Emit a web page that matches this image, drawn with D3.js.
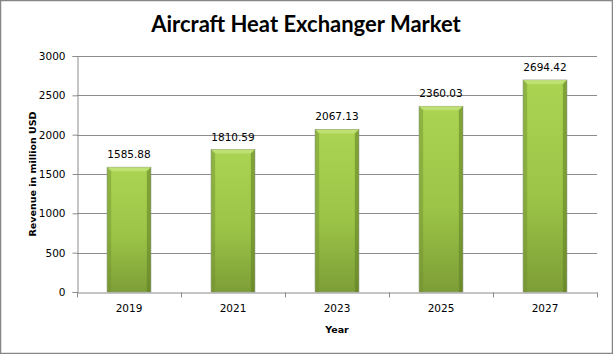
<!DOCTYPE html>
<html>
<head>
<meta charset="utf-8">
<script src="https://cdn.jsdelivr.net/npm/d3@7"></script>
<style>
	body{margin:0;background:#fff;}
	text{font-family:"DejaVu Sans",Verdana,sans-serif;fill:#000;}
	.title{font-family:Lato,"Open Sans",sans-serif;font-weight:bold;font-size:22px;}
	.axis-title{font-weight:bold;font-size:9.5px;}
	.tick-label{font-size:10.5px;}
</style>
</head>
<body>
<script>
var years = ["2019","2021","2023","2025","2027"];
var revenue = [1585.88, 1810.59, 2067.13, 2360.03, 2694.42];
var yTicks = [0, 500, 1000, 1500, 2000, 2500, 3000];

var width = 613, height = 354;
var margin = {left:77, right:16, top:56, bottom:62};
var bevel = 4;

var svg = d3.select('body').append('svg')
	.attr('width', width).attr('height', height);

var defs = svg.append('defs');
var grad = defs.append('linearGradient').attr('id','barGrad')
	.attr('x1',0).attr('y1',0).attr('x2',0).attr('y2',1);
grad.append('stop').attr('offset','0%').attr('stop-color','#abd453');
grad.append('stop').attr('offset','55%').attr('stop-color','#9cc447');
grad.append('stop').attr('offset','100%').attr('stop-color','#7d9e37');

// borda externa
svg.append('rect').attr('x',0.5).attr('y',0.5)
	.attr('width',width-1).attr('height',height-1)
	.attr('fill','none').attr('stroke','#868686').attr('stroke-width',1.5);

svg.append('text').attr('class','title')
	.attr('x', 306).attr('y', 32)
	.attr('text-anchor','middle')
	.text('Aircraft Heat Exchanger Market');

var x = d3.scaleBand().domain(years)
	.range([margin.left, width-margin.right])
	.paddingInner(0.58).paddingOuter(0.29);
var y = d3.scaleLinear().domain([0,3000])
	.range([height-margin.bottom, margin.top]);

// grade
svg.append('g').selectAll('line').data(yTicks.slice(1)).enter()
	.append('line')
	.attr('x1', margin.left).attr('x2', width-margin.right)
	.attr('y1', function(d){return Math.round(y(d))+0.5;})
	.attr('y2', function(d){return Math.round(y(d))+0.5;})
	.attr('stroke','#8c8c8c');

// eixo y
var yAxis = svg.append('g')
	.attr('transform','translate('+(margin.left+0.5)+',0)')
	.call(d3.axisLeft(y).tickValues(yTicks).tickFormat(d3.format('d')).tickSize(5).tickPadding(7));
yAxis.select('.domain').attr('stroke','#8c8c8c');
yAxis.selectAll('.tick line').attr('stroke','#8c8c8c');
yAxis.selectAll('.tick text').attr('class','tick-label').attr('font-family',null).attr('font-size',null);

// eixo x
var xAxis = svg.append('g')
	.attr('transform','translate(0,'+(Math.round(y(0))+0.5)+')')
	.call(d3.axisBottom(x).tickSize(0).tickPadding(12));
xAxis.select('.domain').attr('stroke','#8c8c8c');
xAxis.selectAll('.tick text').attr('class','tick-label').attr('font-family',null).attr('font-size',null);
// marcas entre categorias
var step = x.step();
xAxis.selectAll('.sep').data(d3.range(years.length+1)).enter()
	.append('line')
	.attr('x1', function(i){return Math.round(margin.left + i*step)+0.5;})
	.attr('x2', function(i){return Math.round(margin.left + i*step)+0.5;})
	.attr('y1',0).attr('y2',5)
	.attr('stroke','#8c8c8c');

// barras
var bars = svg.append('g').selectAll('.bar')
	.data(years.map(function(d,i){return {year:d, value:revenue[i]};}))
	.enter().append('g').attr('class','bar');

bars.append('rect')
	.attr('x', function(d){return x(d.year);})
	.attr('y', function(d){return y(d.value);})
	.attr('width', x.bandwidth())
	.attr('height', function(d){return y(0)-y(d.value);})
	.attr('fill','url(#barGrad)')
	.attr('stroke','#8e9a80').attr('stroke-width',0.8);

function pts(a){ return a.map(function(p){return p.join(',');}).join(' '); }

bars.append('polygon')
	.attr('points', function(d){
		var x0 = x(d.year), x1 = x0+x.bandwidth(), y0 = y(d.value);
		return pts([[x0,y0],[x1,y0],[x1-bevel,y0+bevel],[x0+bevel,y0+bevel]]);
	})
	.attr('fill','#c4e37a').attr('opacity',0.8);
bars.append('polygon')
	.attr('points', function(d){
		var x0 = x(d.year), y0 = y(d.value), y1 = y(0);
		return pts([[x0,y0],[x0+bevel,y0+bevel],[x0+bevel,y1],[x0,y1]]);
	})
	.attr('fill','#6f8f2c').attr('opacity',0.45);
bars.append('polygon')
	.attr('points', function(d){
		var x1 = x(d.year)+x.bandwidth(), y0 = y(d.value), y1 = y(0);
		return pts([[x1,y0],[x1-bevel,y0+bevel],[x1-bevel,y1],[x1,y1]]);
	})
	.attr('fill','#5f7d22').attr('opacity',0.55);

bars.append('text').attr('class','tick-label')
	.attr('x', function(d){return x(d.year)+x.bandwidth()/2;})
	.attr('y', function(d){return y(d.value)-9;})
	.attr('text-anchor','middle')
	.text(function(d){return d.value.toFixed(2);});

svg.append('text').attr('class','axis-title')
	.attr('x', (margin.left + width - margin.right)/2)
	.attr('y', 333).attr('text-anchor','middle')
	.text('Year');

svg.append('text').attr('class','axis-title')
	.attr('transform','translate(36,'+((margin.top + height - margin.bottom)/2)+') rotate(-90)')
	.attr('text-anchor','middle')
	.text('Revenue in million USD');
</script>
</body>
</html>
